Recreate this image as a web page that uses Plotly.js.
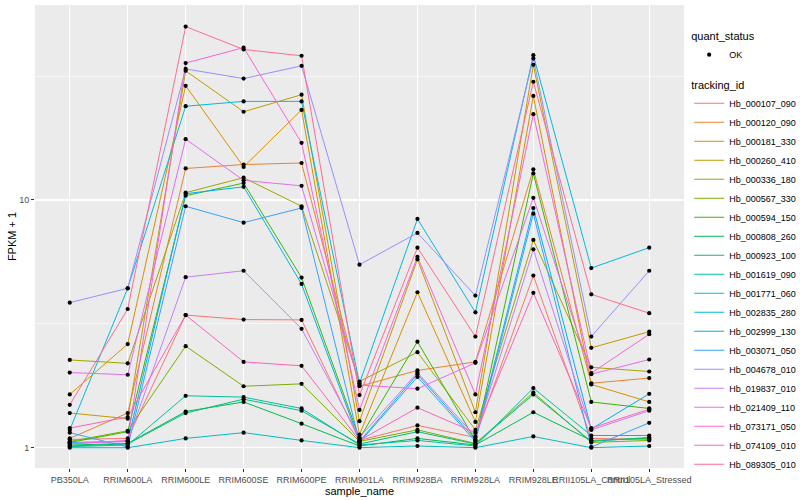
<!DOCTYPE html>
<html>
<head>
<meta charset="utf-8">
<script src="https://cdn.plot.ly/plotly-3.0.1.min.js"></script>
<style>html,body{margin:0;padding:0;background:#fff;}#chart{width:800px;height:500px;}</style>
</head>
<body>
<div id="chart"></div>
<script>
// ---- data (FPKM + 1) ----
const categories = ['PB350LA','RRIM600LA','RRIM600LE','RRIM600SE','RRIM600PE','RRIM901LA','RRIM928BA','RRIM928LA','RRIM928LE','RRII105LA_Control','RRII105LA_Stressed'];
const trackingIds = ['Hb_000107_090','Hb_000120_090','Hb_000181_330','Hb_000260_410','Hb_000336_180','Hb_000567_330','Hb_000594_150','Hb_000808_260','Hb_000923_100','Hb_001619_090','Hb_001771_060','Hb_002835_280','Hb_002999_130','Hb_003071_050','Hb_004678_010','Hb_019837_010','Hb_021409_110','Hb_073171_050','Hb_074109_010','Hb_089305_010'];
const yTickVals = [1, 10];
const yTickText = ['1', '10'];

const hb_000107_090 = [1.08, 1.09, 3.43, 3.29, 3.28, 1.07, 1.23, 1.10, 4.95, 1.09, 1.08];
const hb_000120_090 = [1.09, 1.38, 13.4, 13.9, 14.1, 1.77, 2.05, 2.22, 13.3, 1.82, 1.91];
const hb_000181_330 = [1.64, 2.62, 28.9, 13.6, 23.1, 1.13, 4.24, 1.27, 26.3, 1.80, 1.53];
const hb_000260_410 = [1.38, 1.31, 33.2, 22.7, 26.6, 1.28, 5.76, 1.39, 35.1, 2.53, 2.94];
const hb_000336_180 = [2.26, 2.19, 10.7, 12.3, 9.43, 1.85, 2.43, 1.18, 6.90, 2.11, 2.03];
const hb_000567_330 = [1.06, 1.17, 2.57, 1.77, 1.81, 1.06, 1.18, 1.04, 1.67, 1.05, 1.07];
const hb_000594_150 = [1.05, 1.16, 10.4, 11.7, 4.86, 1.09, 2.68, 1.07, 12.8, 1.53, 1.44];
const hb_000808_260 = [1.025, 1.04, 1.40, 1.53, 1.25, 1.016, 1.09, 1.025, 1.39, 1.07, 1.09];
const hb_000923_100 = [1.016, 1.035, 1.38, 1.57, 1.41, 1.035, 1.16, 1.035, 1.64, 1.06, 1.10];
const hb_001619_090 = [1.01, 1.025, 1.62, 1.60, 1.44, 1.025, 1.07, 1.016, 1.74, 1.12, 1.12];
const hb_001771_060 = [1.0, 1.0, 1.09, 1.15, 1.07, 1.0, 1.016, 1.0, 1.11, 1.0, 1.016];
const hb_002835_280 = [1.18, 4.40, 23.9, 25.0, 25.0, 1.82, 8.38, 3.52, 38.4, 5.31, 6.42];
const hb_002999_130 = [1.05, 1.06, 10.6, 11.3, 4.58, 1.06, 1.98, 1.08, 9.28, 1.19, 1.65];
const hb_003071_050 = [1.15, 1.006, 9.43, 8.10, 9.28, 1.05, 1.93, 1.06, 8.80, 1.006, 1.26];
const hb_004678_010 = [3.85, 4.40, 33.8, 30.9, 34.8, 5.48, 7.36, 4.11, 37.2, 2.81, 5.18];
const hb_019837_010 = [1.04, 1.06, 4.88, 5.18, 3.02, 1.10, 2.01, 1.11, 6.32, 1.18, 1.41];
const hb_021409_110 = [2.01, 1.97, 17.6, 12.0, 11.4, 1.79, 1.73, 2.20, 10.2, 1.98, 2.27];
const hb_073171_050 = [1.035, 1.07, 35.7, 41.2, 17.0, 1.42, 5.90, 1.64, 22.2, 2.00, 2.87];
const hb_074109_010 = [1.20, 1.33, 3.43, 2.22, 2.14, 1.07, 1.45, 1.15, 4.22, 1.20, 1.43];
const hb_089305_010 = [1.49, 3.63, 50.1, 40.5, 38.2, 1.63, 6.42, 2.81, 30.0, 4.16, 3.49];

const seriesValues = [hb_000107_090, hb_000120_090, hb_000181_330, hb_000260_410, hb_000336_180,
  hb_000567_330, hb_000594_150, hb_000808_260, hb_000923_100, hb_001619_090, hb_001771_060,
  hb_002835_280, hb_002999_130, hb_003071_050, hb_004678_010, hb_019837_010, hb_021409_110,
  hb_073171_050, hb_074109_010, hb_089305_010];

// ---- style ----
const palette = ['#F8766D','#EA8331','#D89000','#C09B00','#A3A500','#7CAE00','#39B600','#00BB4E','#00BF7D','#00C1A3','#00BFC4','#00BAE0','#00B0F6','#35A2FF','#9590FF','#C77CFF','#E76BF3','#FA62DB','#FF62BC','#FF6C91'];
const FONT = 'Liberation Sans, Arial, sans-serif';

const traces = [];
trackingIds.forEach((id, i) => {
  traces.push({
    type: 'scatter', mode: 'lines', name: id,
    x: categories, y: seriesValues[i],
    line: {color: palette[i], width: 1},
    legend: 'legend2', hoverinfo: 'name+y'
  });
});
const px = [], py = [];
seriesValues.forEach(vals => vals.forEach((v, j) => { px.push(categories[j]); py.push(v); }));
traces.push({
  type: 'scatter', mode: 'markers', name: 'OK', x: px, y: py,
  marker: {color: '#000000', size: 4.2, symbol: 'circle'},
  legend: 'legend', hoverinfo: 'y'
});

const layout = {
  width: 800, height: 500,
  paper_bgcolor: '#FFFFFF', plot_bgcolor: '#EBEBEB',
  margin: {l: 35, r: 116, t: 5, b: 32, autoexpand: false},
  font: {family: FONT, color: '#000000', size: 11},
  showlegend: true,
  xaxis: {
    type: 'category', categoryorder: 'array', categoryarray: categories,
    range: [-0.6, categories.length - 0.4],
    showgrid: true, gridcolor: '#FFFFFF', gridwidth: 1.3,
    zeroline: false, showline: false,
    ticks: 'outside', ticklen: 3, tickcolor: '#333333', tickwidth: 1,
    tickangle: 0,
    tickfont: {family: FONT, size: 9, color: '#4D4D4D'},
    title: {text: 'sample_name', font: {family: FONT, size: 11, color: '#000000'}, standoff: 3},
    automargin: false
  },
  yaxis: {
    type: 'log', range: [-0.082, 1.787],
    tickmode: 'array', tickvals: yTickVals, ticktext: yTickText,
    showgrid: true, gridcolor: '#FFFFFF', gridwidth: 1.3,
    minor: {tickmode: 'array', tickvals: [3.1623, 31.623], showgrid: true, gridcolor: '#FFFFFF', gridwidth: 0.6, ticks: ''},
    zeroline: false, showline: false,
    ticks: 'outside', ticklen: 3, tickcolor: '#333333', tickwidth: 1,
    tickfont: {family: FONT, size: 9, color: '#4D4D4D'},
    title: {text: 'FPKM + 1', font: {family: FONT, size: 11, color: '#000000'}, standoff: 0},
    automargin: false
  },
  legend: {
    x: 1.008, xanchor: 'left', y: 0.955, yanchor: 'top',
    bgcolor: 'rgba(0,0,0,0)', borderwidth: 0,
    font: {family: FONT, size: 9, color: '#000000'},
    title: {text: 'quant_status', font: {family: FONT, size: 11, color: '#000000'}}
  },
  legend2: {
    x: 1.008, xanchor: 'left', y: 0.85, yanchor: 'top',
    bgcolor: 'rgba(0,0,0,0)', borderwidth: 0, traceorder: 'normal',
    font: {family: FONT, size: 9, color: '#000000'},
    title: {text: 'tracking_id', font: {family: FONT, size: 11, color: '#000000'}}
  }
};

Plotly.newPlot('chart', traces, layout, {displayModeBar: false, staticPlot: true});
</script>
</body>
</html>
